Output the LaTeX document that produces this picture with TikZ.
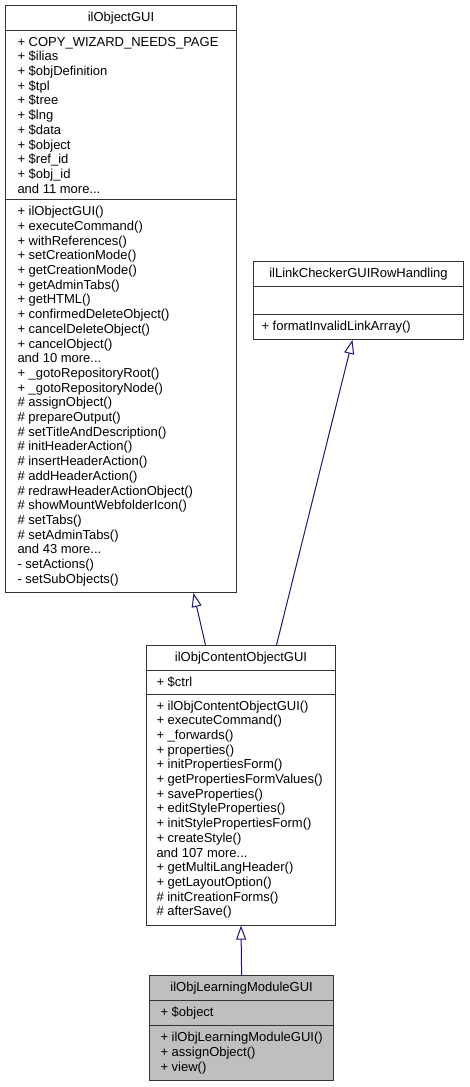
\documentclass[tikz,border=0pt]{standalone}
\usepackage{fontspec}
\setmainfont{Liberation Sans}
\usetikzlibrary{positioning, shapes.multipart, arrows.meta}

\definecolor{edgeblue}{HTML}{191970}
\definecolor{selgray}{HTML}{BFBFBF}

\begin{document}
\begin{tikzpicture}[
    x=1pt, y=-1pt,
    cls/.style={rectangle split, rectangle split parts=3, draw=black!80, line width=1pt,
        fill=white, rectangle split part align={center, left, left}, align=left,
        inner ysep=6pt, font=\fontsize{13}{14.7}\selectfont, anchor=north west},
    cur/.style={cls, fill=selgray},
    edge/.style={<-, >={Triangle[open, length=14pt, width=10pt]}, draw=edgeblue, line width=1pt}
]
\useasboundingbox (0,0) rectangle (469,1087);

% ================= BASE CLASSES =================
\node[cls, inner xsep=12pt, minimum width=231pt] (objgui) at (5,5) {%
    ilObjectGUI
    \nodepart{two}
    + COPY\_WIZARD\_NEEDS\_PAGE\\
    + \$ilias\\
    + \$objDefinition\\
    + \$tpl\\
    + \$tree\\
    + \$lng\\
    + \$data\\
    + \$object\\
    + \$ref\_id\\
    + \$obj\_id\\
    and 11 more...
    \nodepart{three}
    + ilObjectGUI()\\
    + executeCommand()\\
    + withReferences()\\
    + setCreationMode()\\
    + getCreationMode()\\
    + getAdminTabs()\\
    + getHTML()\\
    + confirmedDeleteObject()\\
    + cancelDeleteObject()\\
    + cancelObject()\\
    and 10 more...\\
    + \_gotoRepositoryRoot()\\
    + \_gotoRepositoryNode()\\
    \# assignObject()\\
    \# prepareOutput()\\
    \# setTitleAndDescription()\\
    \# initHeaderAction()\\
    \# insertHeaderAction()\\
    \# addHeaderAction()\\
    \# redrawHeaderActionObject()\\
    \# showMountWebfolderIcon()\\
    \# setTabs()\\
    \# setAdminTabs()\\
    and 43 more...\\
    - setActions()\\
    - setSubObjects()};

\node[cls, inner xsep=8pt, minimum width=210pt] (linkcheck) at (253,261) {%
    ilLinkCheckerGUIRowHandling
    \nodepart{two}
    \strut
    \nodepart{three}
    + formatInvalidLinkArray()};

% ================= DERIVED CLASSES =================
\node[cls, inner xsep=10pt, minimum width=189pt] (cobj) at (146,645) {%
    ilObjContentObjectGUI
    \nodepart{two}
    + \$ctrl
    \nodepart{three}
    + ilObjContentObjectGUI()\\
    + executeCommand()\\
    + \_forwards()\\
    + properties()\\
    + initPropertiesForm()\\
    + getPropertiesFormValues()\\
    + saveProperties()\\
    + editStyleProperties()\\
    + initStylePropertiesForm()\\
    + createStyle()\\
    and 107 more...\\
    + getMultiLangHeader()\\
    + getLayoutOption()\\
    \# initCreationForms()\\
    \# afterSave()};

\node[cur, inner xsep=11pt, minimum width=183pt] (lmgui) at (149,975) {%
    ilObjLearningModuleGUI
    \nodepart{two}
    + \$object
    \nodepart{three}
    + ilObjLearningModuleGUI()\\
    + assignObject()\\
    + view()};

% ================= INHERITANCE =================
\draw[edge] ([xshift=72.5pt]objgui.south) -- ([xshift=-35.5pt]cobj.north);
\draw[edge] ([xshift=-6pt]linkcheck.south) -- ([xshift=35.5pt]cobj.north);
\draw[edge] (cobj.south) -- (lmgui.north);

\end{tikzpicture}
\end{document}
